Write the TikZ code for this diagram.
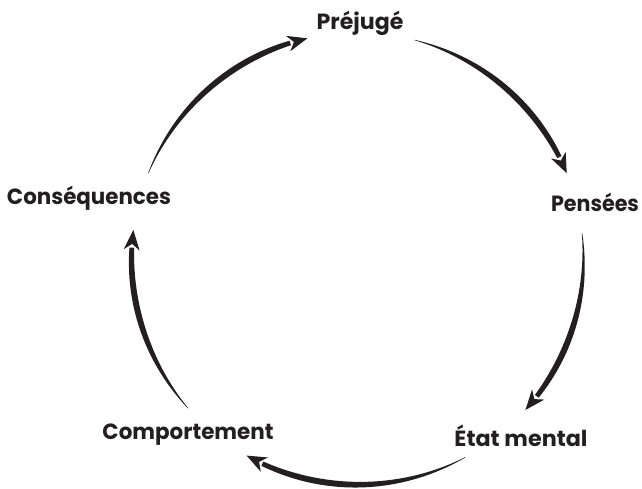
\documentclass[tikz,border=0pt]{standalone}
\usepackage{fontspec}
\usepackage{graphicx}
\setmainfont{Poppins}
\usetikzlibrary{calc}
\definecolor{ink}{HTML}{231F20}
\newcommand{\fitw}[2]{\resizebox{#1pt}{\height}{#2}}
\tikzset{
  lbl/.style={font=\fontsize{22}{26}\selectfont\bfseries, text=ink, inner sep=0pt, anchor=base},
  declare function={wd(\t)=0.2+2.8*sin(130*\t);},
}
\def\cx{357.5}
\def\cy{230.3}
\def\rr{226}
% \taper{start angle}{end angle}{name}
\newcommand{\taper}[3]{%
  \pgfmathsetmacro{\aA}{#1}%
  \pgfmathsetmacro{\aB}{#2+4.5}%
  \coordinate (#3s) at ({\cx+\rr*cos(#1)},{\cy+\rr*sin(#1)});
  \coordinate (#3t) at ({\cx+\rr*cos(#2)},{\cy+\rr*sin(#2)});
  \coordinate (#3b) at ({\cx+\rr*cos(#2+5)},{\cy+\rr*sin(#2+5)});
  \fill[ink] plot[domain=0:1,samples=40,smooth]
     ({\cx+(\rr+wd(\x))*cos(\aA+(\aB-\aA)*\x)},{\cy+(\rr+wd(\x))*sin(\aA+(\aB-\aA)*\x)})
     -- plot[domain=1:0,samples=40,smooth]
     ({\cx+(\rr-wd(\x))*cos(\aA+(\aB-\aA)*\x)},{\cy+(\rr-wd(\x))*sin(\aA+(\aB-\aA)*\x)})
     -- cycle;
  \coordinate (#3h) at ($(#3t)!20pt!(#3b)$);
  \fill[ink] (#3t) -- ($(#3h)!8pt!90:(#3t)$) -- ($(#3t)!14pt!(#3b)$)
     -- ($(#3h)!8pt!-90:(#3t)$) -- cycle;
}
\begin{document}
\begin{tikzpicture}[x=1pt,y=1pt]
\useasboundingbox (0,0) rectangle (642,489);
\node[lbl] (prej) at (360,459) {\fitw{87}{Préjugé}};
\node[lbl] (pens) at (595,277) {\fitw{88}{Pensées}};
\node[lbl] (etat) at (521,42) {\fitw{133}{État mental}};
\node[lbl] (comp) at (188,49) {\fitw{171}{Comportement}};
\node[lbl] (cons) at (89,284) {\fitw{164}{Conséquences}};
\taper{75.4}{22.2}{a1}
\taper{6.5}{-42}{a2}
\taper{-61.5}{-119.4}{a3}
\taper{-138.5}{-187.3}{a4}
\taper{-202.2}{-257.2}{a5}
\end{tikzpicture}
\end{document}
